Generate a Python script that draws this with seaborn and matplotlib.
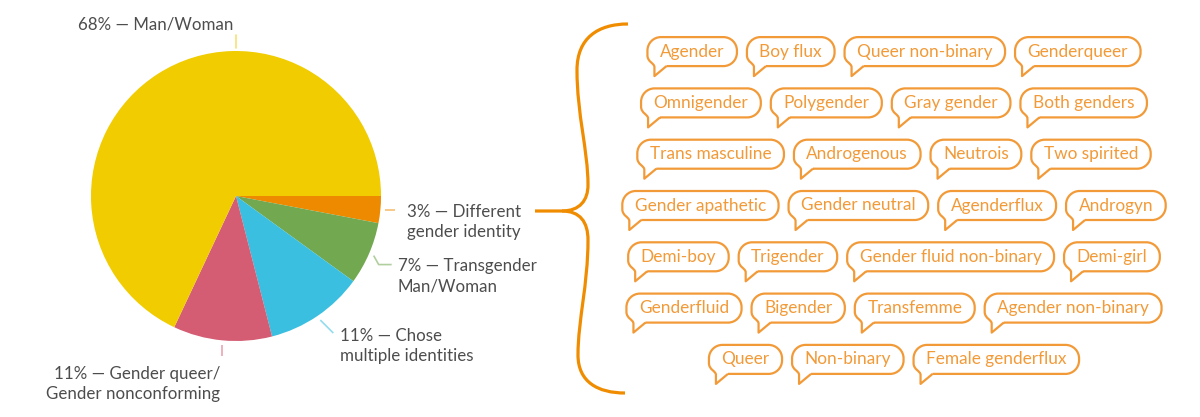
import matplotlib
matplotlib.use("Agg")
import numpy as np
import matplotlib.pyplot as plt
from matplotlib.path import Path
from matplotlib.patches import PathPatch
import seaborn as sns

# ---------------- data ----------------
categories = ["Different\ngender identity", "Transgender\nMan/Woman",
              "Chose\nmultiple identities", "Gender queer/\nGender nonconforming",
              "Man/Woman"]
shares = [3, 7, 11, 11, 68]
slice_colors = ["#EE8A00", "#72A84F", "#3BBFE0", "#D45C73", "#F0CC00"]

bubble_rows = [
    ["Agender", "Boy flux", "Queer non-binary", "Genderqueer"],
    ["Omnigender", "Polygender", "Gray gender", "Both genders"],
    ["Trans masculine", "Androgenous", "Neutrois", "Two spirited"],
    ["Gender apathetic", "Gender neutral", "Agenderflux", "Androgyn"],
    ["Demi-boy", "Trigender", "Gender fluid non-binary", "Demi-girl"],
    ["Genderfluid", "Bigender", "Transfemme", "Agender non-binary"],
    ["Queer", "Non-binary", "Female genderflux"],
]

# ---------------- style ----------------
sns.set_theme(style="white")
plt.rcParams['font.family'] = ['Lato', 'DejaVu Sans']
TEXT = "#4D4D4D"
BUB = "#F29A38"
BRACE = "#F08C00"

fig = plt.figure(figsize=(12, 4.17), dpi=100)
ax = fig.add_axes([0, 0, 1, 1])

cx, cy, R = 236, 196, 145
wedges, _ = ax.pie(shares, colors=slice_colors, startangle=0, counterclock=True,
                   center=(cx, cy), radius=R, wedgeprops=dict(linewidth=0))
ax.set_xlim(0, 1200)
ax.set_ylim(417, 0)
ax.set_aspect('equal')
ax.axis('off')

def lighten(c, a=0.55):
    import matplotlib.colors as mc
    r, g, b = mc.to_rgb(c)
    return (1 - a * (1 - r), 1 - a * (1 - g), 1 - a * (1 - b))

labels = [f"{v}% — {n}" for v, n in zip(shares, categories)]

def pt(theta, r):
    t = np.deg2rad(theta)
    return cx + r * np.cos(t), cy + r * np.sin(t)

fs = 12.2
leaders = [
    [(10, 0)],
    [(5, 9), (13, 0)],
    [(13, 13)],
    [(0, 11)],
]
text_off = [(12, 0, 'left'), (6, 0, 'left'), (7, 1, 'left'), (-2, 16, 'right')]
for i in range(4):
    w = wedges[i]
    mid = 0.5 * (w.theta1 + w.theta2)
    x, y = pt(mid, 150)
    xs, ys = [x], [y]
    for dx, dy in leaders[i]:
        x += dx; y += dy
        xs.append(x); ys.append(y)
    ax.plot(xs, ys, color=lighten(slice_colors[i]), lw=1.2, solid_capstyle='butt')
    ox, oy, ha = text_off[i]
    for k, line in enumerate(labels[i].split("\n")):
        ax.text(x + ox, y + oy + 20 * k, line, ha=ha, va='center_baseline',
                fontsize=fs, color=TEXT)

# top label for the big slice
x0, y0 = pt(270, 161)
x1, y1 = pt(270, 148)
ax.plot([x0, x1], [y0, y1], color=lighten(slice_colors[4]), lw=1.2)
ax.text(x0 - 3, 23, labels[4], ha='right', va='center_baseline', fontsize=fs, color=TEXT)

# ---------------- brace ----------------
M, L, C = Path.MOVETO, Path.LINETO, Path.CURVE4

def draw_path(pts, codes, **kw):
    ax.add_patch(PathPatch(Path(pts, codes), fill=False, **kw))

upper = [(535, 211), (562, 211), (580, 211), (588, 200), (588, 185),
         (588, 150), (577, 115), (577, 70), (577, 38), (598, 24), (628, 24)]
ucodes = [M, L, C, C, C, C, C, C, C, C, C]
lower = [(562, 211), (580, 211), (588, 222), (588, 240),
         (588, 285), (578, 320), (578, 355), (578, 382), (598, 393), (625, 393)]
lcodes = [M, C, C, C, C, C, C, C, C, C]
draw_path(upper, ucodes, color=BRACE, lw=2.3, capstyle='butt')
draw_path(lower, lcodes, color=BRACE, lw=2.3, capstyle='butt')

# ---------------- bubbles ----------------
renderer = fig.canvas.get_renderer()
row_center_x = 894
row_y0, row_dy = 51.6, 51.3
pad, gap = 12.5, 10
half_h = 14.5
bfs = 12.4
K = 0.5523

def bubble(xl, xr, yt, yb, r=13.5, tx=7, tw=12, tl=10):
    k = K * r
    v = [(xl + tx + tw, yb), (xr - r, yb),
         (xr - r + k, yb), (xr, yb - r + k), (xr, yb - r),
         (xr, yt + r),
         (xr, yt + r - k), (xr - r + k, yt), (xr - r, yt),
         (xl + r, yt),
         (xl + r - k, yt), (xl, yt + r - k), (xl, yt + r),
         (xl, yb - r * 0.8),
         (xl, yb - 4), (xl + tx, yb - 3), (xl + tx, yb + 1),
         (xl + tx, yb + tl), (xl + tx + tw, yb)]
    c = [M, L, C, C, C, L, C, C, C, L, C, C, C, L, C, C, C, L, L]
    return Path(v, c)

for ri, row in enumerate(bubble_rows):
    yc = row_y0 + ri * row_dy
    texts, widths = [], []
    for name in row:
        t = ax.text(0, yc, name, ha='center', va='center', fontsize=bfs, color=BUB)
        bb = t.get_window_extent(renderer)
        texts.append(t)
        widths.append(bb.width + 2 * pad)
    total = sum(widths) + gap * (len(row) - 1)
    x = row_center_x - total / 2
    for t, w in zip(texts, widths):
        t.set_x(x + w / 2)
        ax.add_patch(PathPatch(bubble(x, x + w, yc - half_h, yc + half_h),
                               fill=False, edgecolor=BUB, lw=1.6, joinstyle='round'))
        x += w + gap

fig.savefig("out.png", dpi=100)
